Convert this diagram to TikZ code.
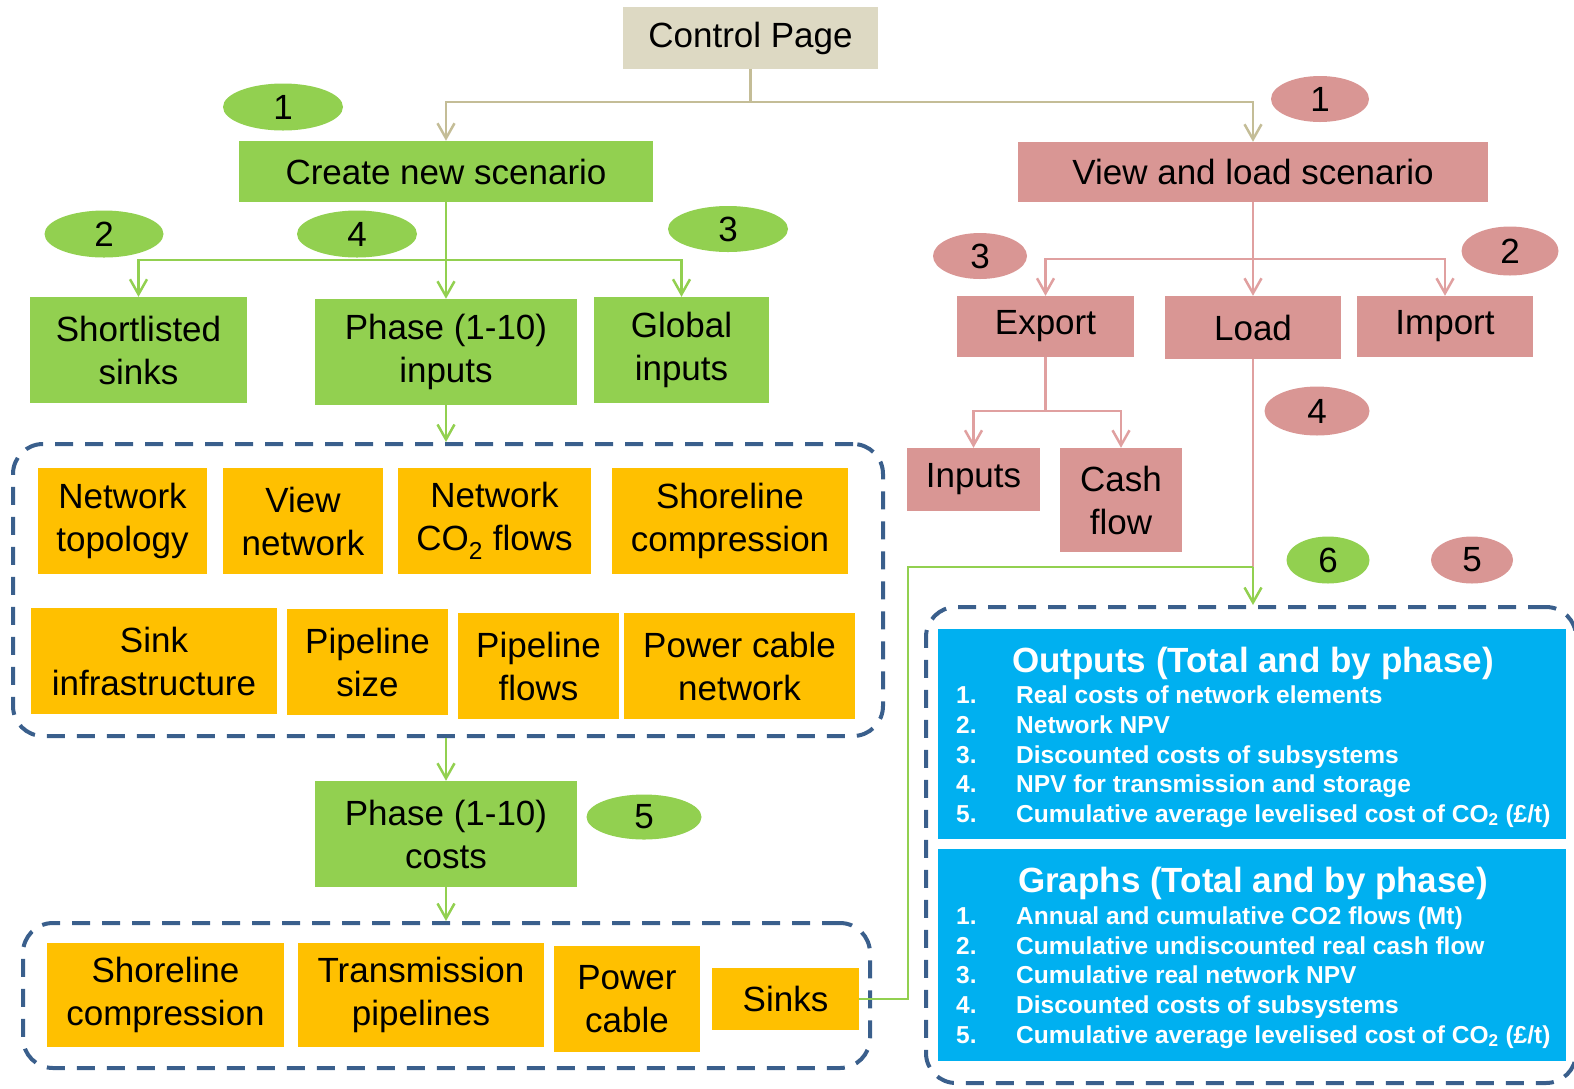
\documentclass[tikz,border=0pt]{standalone}
\usepackage{fontspec}
\setmainfont{Liberation Sans}
\usetikzlibrary{arrows.meta,shapes.geometric}
\definecolor{gfill}{HTML}{92D050}
\definecolor{pfill}{HTML}{D99694}
\definecolor{pline}{HTML}{E0A0A0}
\definecolor{tfill}{HTML}{DDD9C3}
\definecolor{tline}{HTML}{C4BD97}
\definecolor{ofill}{HTML}{FFC000}
\definecolor{bfill}{HTML}{00B0F0}
\definecolor{dline}{HTML}{3A5F8C}
\begin{document}
\begin{tikzpicture}[x=1pt,y=-1pt,
  every node/.style={font=\fontsize{35}{43}\selectfont, inner sep=0pt, align=center},
  tbox/.style={fill=tfill},
  gbox/.style={fill=gfill},
  pbox/.style={fill=pfill},
  obox/.style={fill=ofill},
  bbox/.style={fill=bfill},
  ellg/.style={ellipse, fill=gfill},
  ellp/.style={ellipse, fill=pfill},
  dashbox/.style={draw=dline, line width=4pt, dash pattern=on 18pt off 12pt, rounded corners=30pt},
  conn/.style={line width=2.5pt, -{Straight Barb[length=15pt,width=17pt]}},
  tconn/.style={conn, draw=tline},
  gconn/.style={conn, draw=gfill},
  pconn/.style={conn, draw=pline},
  plainline/.style={line width=2.5pt},
  btitle/.style={font=\fontsize{35}{40}\selectfont\bfseries, text=white, anchor=base},
  bnum/.style={font=\fontsize{24.5}{28}\selectfont\bfseries, text=white, anchor=base west},
  bitem/.style={font=\fontsize{24.5}{28}\selectfont\bfseries, text=white, anchor=base west}
]
\useasboundingbox (0,0) rectangle (1574,1088);

% dashed groups
\node[dashbox, minimum width=870pt, minimum height=292pt] (d1) at (448,590) {};
\node[dashbox, minimum width=847pt, minimum height=145pt] (d2) at (446.5,995.5) {};
\node[dashbox, minimum width=650pt, minimum height=476pt] (d3) at (1251,845) {};

% top
\node[tbox, minimum width=255pt, minimum height=62pt] (ctrl) at (750.5,38) {Control Page};
\node[gbox, minimum width=414pt, minimum height=61pt] (create) at (446,171.5) {Create new scenario};
\node[pbox, minimum width=470pt, minimum height=60pt] (view) at (1253,172) {View and load scenario};

% left column
\node[gbox, minimum width=217pt, minimum height=106pt] (short) at (138.5,350) {Shortlisted\\sinks};
\node[gbox, minimum width=262pt, minimum height=106pt] (phin) at (446,352) {Phase (1-10)\\inputs};
\node[gbox, minimum width=175pt, minimum height=106pt] (glob) at (681.5,350) {Global\\inputs};

\node[obox, minimum width=169pt, minimum height=106pt] (ntop) at (122.5,521) {Network\\topology};
\node[obox, minimum width=160pt, minimum height=106pt] (vnet) at (303,521) {View\\network};
\node[obox, minimum width=193pt, minimum height=106pt] (nco2) at (494.5,521) {Network\\CO\textsubscript{2} flows};
\node[obox, minimum width=236pt, minimum height=106pt] (shore1) at (730,521) {Shoreline\\compression};
\node[obox, minimum width=246pt, minimum height=106pt] (sinkinf) at (154,661) {Sink\\infrastructure};
\node[obox, minimum width=161pt, minimum height=106pt] (pipsize) at (367.5,662) {Pipeline\\size};
\node[obox, minimum width=161pt, minimum height=106pt] (pipflow) at (538.5,666) {Pipeline\\flows};
\node[obox, minimum width=231pt, minimum height=106pt] (pcnet) at (739.5,666) {Power cable\\network};

\node[gbox, minimum width=262pt, minimum height=106pt] (phcost) at (446,834) {Phase (1-10)\\costs};

\node[obox, minimum width=237pt, minimum height=104pt] (shore2) at (165.5,995) {Shoreline\\compression};
\node[obox, minimum width=246pt, minimum height=104pt] (trans) at (421,995) {Transmission\\pipelines};
\node[obox, minimum width=146pt, minimum height=106pt] (pcable) at (627,999) {Power\\cable};
\node[obox, minimum width=147pt, minimum height=62pt] (sinks) at (785.5,999) {Sinks};

% right column
\node[pbox, minimum width=177pt, minimum height=61pt] (export) at (1045.5,326.5) {Export};
\node[pbox, minimum width=176pt, minimum height=63pt] (load) at (1253,327.5) {Load};
\node[pbox, minimum width=176pt, minimum height=61pt] (import) at (1445,326.5) {Import};
\node[pbox, minimum width=133pt, minimum height=63pt] (inputs) at (973.5,479.5) {Inputs};
\node[pbox, minimum width=122pt, minimum height=104pt] (cash) at (1121,500) {Cash\\flow};

% blue output boxes
\node[bbox, minimum width=628pt, minimum height=210pt] (outb) at (1252,734) {};
\node[bbox, minimum width=628pt, minimum height=212pt] (grb) at (1252,955) {};
\node[btitle] (outt) at (1253,672) {Outputs (Total and by phase)};
\node[btitle] (grt) at (1253,892) {Graphs (Total and by phase)};
\foreach \i/\y/\t in {1/703/{Real costs of network elements},
                      2/733/{Network NPV},
                      3/763/{Discounted costs of subsystems},
                      4/792/{NPV for transmission and storage},
                      5/822/{Cumulative average levelised cost of CO\textsubscript{2} (£/t)}}{
  \node[bnum] (on\i) at (956,\y) {\i.};
  \node[bitem] (ot\i) at (1016,\y) {\t};
}
\foreach \i/\y/\t in {1/924/{Annual and cumulative CO2 flows (Mt)},
                      2/954/{Cumulative undiscounted real cash flow},
                      3/983/{Cumulative real network NPV},
                      4/1013/{Discounted costs of subsystems},
                      5/1043/{Cumulative average levelised cost of CO\textsubscript{2} (£/t)}}{
  \node[bnum] (gn\i) at (956,\y) {\i.};
  \node[bitem] (gt\i) at (1016,\y) {\t};
}

% ellipses
\node[ellg, minimum width=120pt, minimum height=47pt] (eg1) at (283,107) {1};
\node[ellg, minimum width=119pt, minimum height=47pt] (eg2) at (104,234) {2};
\node[ellg, minimum width=120pt, minimum height=47pt] (eg4) at (357,234) {4};
\node[ellg, minimum width=120pt, minimum height=46pt] (eg3) at (728,229) {3};
\node[ellg, minimum width=115pt, minimum height=45pt] (eg5) at (644,817) {5};
\node[ellg, minimum width=83pt, minimum height=47pt] (eg6) at (1328,560) {6};
\node[ellp, minimum width=98pt, minimum height=46pt] (ep1) at (1320,99) {1};
\node[ellp, minimum width=94pt, minimum height=46pt] (ep3) at (980,256) {3};
\node[ellp, minimum width=97pt, minimum height=49pt] (ep2) at (1510,251) {2};
\node[ellp, minimum width=105pt, minimum height=49pt] (ep4) at (1317,411) {4};
\node[ellp, minimum width=82pt, minimum height=47pt] (ep5) at (1472,560) {5};

% connectors
\coordinate (cj) at (750.5,102);
\draw[plainline, draw=tline] (ctrl.south) -- (cj);
\draw[tconn] (cj) -| (create.north);
\draw[tconn] (cj) -| (view.north);

\coordinate (gj) at (446,260);
\draw[plainline, draw=gfill] (create.south) -- (gj);
\draw[gconn] (gj) -| (short.north);
\draw[gconn] (gj) -- (phin.north);
\draw[gconn] (gj) -| (glob.north);
\draw[gconn] (phin.south) -- (phin.south |- d1.north);
\draw[gconn] (d1.south -| phcost.north) -- (phcost.north);
\draw[gconn] (phcost.south) -- (phcost.south |- d2.north);

\coordinate (pj) at (1253,259);
\draw[plainline, draw=pline] (view.south) -- (pj);
\draw[pconn] (pj) -| (export.north);
\draw[pconn] (pj) -- (load.north);
\draw[pconn] (pj) -| (import.north);
\coordinate (ej) at (1045.5,411);
\draw[plainline, draw=pline] (export.south) -- (ej);
\draw[pconn] (ej) -| (inputs.north);
\draw[pconn] (ej) -| (cash.north);

\coordinate (lj) at (1253,567);
\coordinate (gc) at (908,567);
\draw[plainline, draw=pline] (load.south) -- (lj);
\draw[plainline, draw=gfill] (sinks.east) -| (gc) -- (lj);
\draw[gconn] (lj) -- (lj |- d3.north);
\end{tikzpicture}
\end{document}
